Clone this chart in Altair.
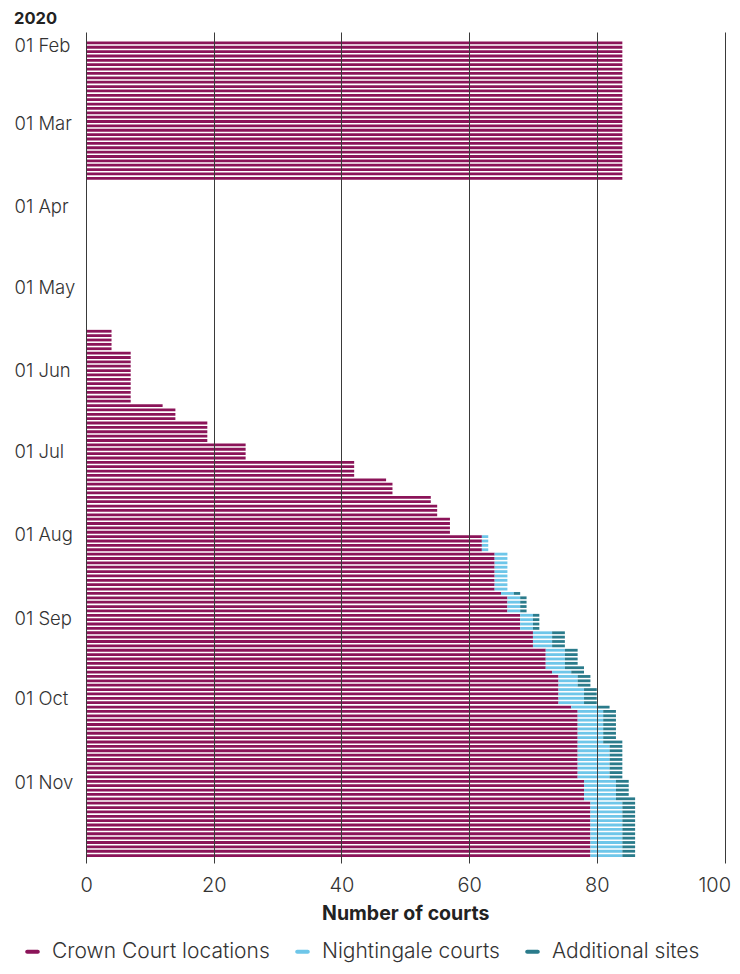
import altair as alt
import pandas as pd

# Runs of consecutive rows (top to bottom) sharing the same values
run_lengths = [32, 34, 5, 12, 1, 3, 5, 4, 4, 1, 3, 2, 3, 4, 4, 9, 1, 4, 4, 4, 4, 1, 1, 3, 4, 1, 7, 1, 8, 4, 1, 13]
crown_court = [84, 0, 4, 7, 12, 14, 19, 25, 42, 47, 48, 54, 55, 57,
               62, 64, 65, 66, 68, 70, 72, 72, 73, 74, 74, 76, 77, 77, 77, 78, 78, 79]
nightingale = [0, 0, 0, 0, 0, 0, 0, 0, 0, 0, 0, 0, 0, 0,
               1, 2, 2, 2, 2, 3, 3, 3, 3, 3, 4, 4, 4, 4, 5, 5, 5, 5]
additional = [0, 0, 0, 0, 0, 0, 0, 0, 0, 0, 0, 0, 0, 0,
              0, 0, 1, 1, 1, 2, 2, 3, 2, 2, 2, 2, 2, 3, 2, 2, 3, 2]

series = ["Crown Court locations", "Nightingale courts", "Additional sites"]
colors = ["#8B1459", "#6EC6E9", "#2A7B8B"]
month_ticks = [2, 3, 4, 5, 6, 7, 8, 9, 10, 11]
x_ticks = [0, 20, 40, 60, 80, 100]

first_row = pd.Timestamp("2020-01-31 00:00")
row_step = pd.Timedelta(hours=39)

rows = []
k = 0
for n, c, ng, ad in zip(run_lengths, crown_court, nightingale, additional):
    for _ in range(n):
        d = (first_row + k * row_step).strftime("%Y-%m-%dT%H:%M")
        for i, (s, v) in enumerate(zip(series, [c, ng, ad])):
            if v > 0:
                rows.append({"date": d, "series": s, "ord": i, "courts": v})
        k += 1
df = pd.DataFrame(rows)

FONT = "Inter"

bars = alt.Chart(df).mark_bar(size=2.8, orient="horizontal").encode(
    x=alt.X("courts:Q", stack="zero",
            scale=alt.Scale(domain=[0, 100], nice=False, zero=True),
            axis=alt.Axis(values=x_ticks, grid=True, gridColor="#3a3a3a", gridWidth=1,
                          domain=False, ticks=False, labelFontSize=20, labelColor="#333",
                          labelFontWeight=300, labelPadding=12,
                          labelFlush=True, labelFlushOffset=6,
                          title="Number of courts", titleFontSize=19.5, titleFontWeight="bold",
                          titleColor="#222", titlePadding=9, zindex=1)),
    y=alt.Y("date:T",
            scale=alt.Scale(domain=[alt.DateTime(year=2020, month=1, date=26, hours=23),
                                    alt.DateTime(year=2020, month=12, date=1, hours=0)],
                            nice=False, padding=0, reverse=True),
            axis=alt.Axis(values=[alt.DateTime(year=2020, month=m, date=1) for m in month_ticks],
                          format="%d %b", labelAlign="left", labelPadding=72, ticks=False,
                          domain=False, grid=False, labelFontSize=18.5, labelColor="#333",
                          labelFontWeight=300, labelBaseline="middle", title=None)),
    color=alt.Color("series:N", scale=alt.Scale(domain=series, range=colors),
                    legend=alt.Legend(title=None, orient="none", direction="horizontal",
                                      legendX=-64, legendY=909, labelFontSize=21,
                                      labelColor="#333", labelFontWeight=300, labelLimit=0,
                                      symbolType="M-0.75,-0.28 L0.75,-0.28 A0.28,0.28 0 0 1 0.75,0.28 L-0.75,0.28 A0.28,0.28 0 0 1 -0.75,-0.28 Z",
                                      symbolSize=200, symbolStrokeWidth=0, labelOffset=9,
                                      columnPadding=22)),
    order=alt.Order("ord:Q", sort="ascending"),
)

year = alt.Chart(pd.DataFrame({"t": ["2020"]})).mark_text(
    align="left", baseline="middle", fontSize=16.5, fontWeight="bold", color="#222"
).encode(text="t:N", x=alt.value(-72), y=alt.value(-13))

chart = alt.layer(bars, year).properties(
    width=638.5, height=831,
    autosize=alt.AutoSizeParams(type="none"),
    padding={"left": 78, "top": 24, "right": 6, "bottom": 103},
).configure(font=FONT).configure_view(stroke=None)

chart.save("out.html", embed_options={"renderer": "svg", "actions": False})
